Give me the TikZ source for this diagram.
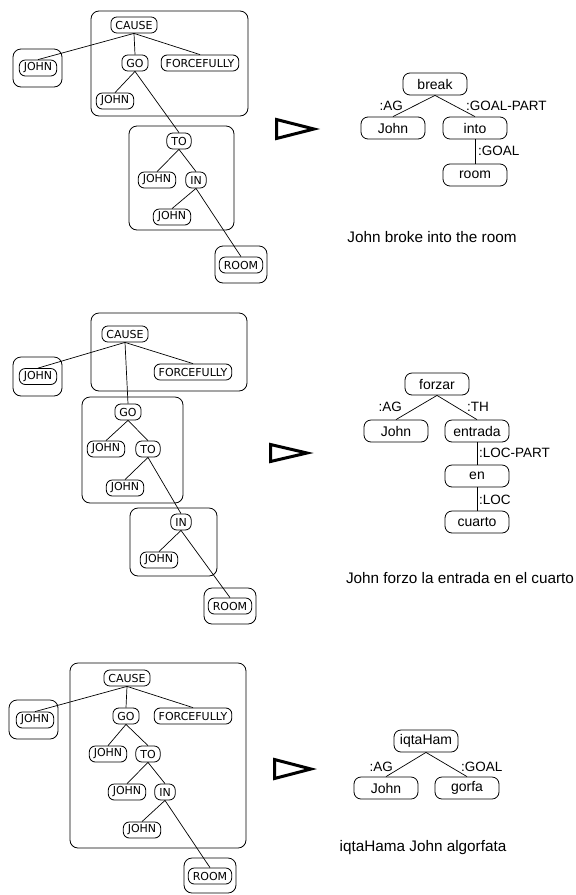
\documentclass[tikz,border=0pt]{standalone}
\usepackage{fontspec}
\setmainfont{Liberation Sans}
\newfontfamily\cdfont{DejaVu Sans}
\usetikzlibrary{positioning,calc}

\tikzset{
  cd/.style={draw, rounded corners=6pt, font=\cdfont\fontsize{11}{13}\selectfont, inner xsep=4.5pt, inner ysep=0pt, minimum height=16pt, minimum width=20pt, line width=0.8pt},
  fr/.style={draw, rounded corners=7pt, font=\fontsize{14}{16}\selectfont, minimum width=64pt, minimum height=22pt, inner sep=0pt, line width=0.8pt},
  rel/.style={font=\fontsize{13.5}{15}\selectfont, inner sep=0pt},
  sent/.style={font=\fontsize{15.3}{18}\selectfont, inner sep=0pt},
  grp/.style={rounded corners=8pt, line width=0.8pt},
  maps/.style={line width=3pt, line join=miter},
  link/.style={line width=0.7pt}
}

\begin{document}
\begin{tikzpicture}[x=1pt,y=-1pt]
    \useasboundingbox (0,0) rectangle (576,895);
    %=============================================================================================================
    %Panel 1: John broke into the room%
    %=============================================================================================================
    \draw[grp] (91,11) rectangle (248,116); %CAUSE group
    \draw[grp] (13,49) rectangle (62,87); %Agent group
    \draw[grp] (129,126) rectangle (234,230); %TO group
    \draw[grp] (215,246) rectangle (267,283); %ROOM group
    \node[cd] (cause1) at (134,25) {CAUSE};
    \node[cd] (agent1) at (38,68) {JOHN};
    \node[cd] (go1) at (135,63) {GO};
    \node[cd] (force1) at (200,63) {FORCEFULLY};
    \node[cd] (gojohn1) at (115,101) {JOHN};
    \node[cd] (to1) at (179,141) {TO};
    \node[cd] (tojohn1) at (157,180) {JOHN};
    \node[cd] (in1) at (196,180) {IN};
    \node[cd] (injohn1) at (172,217) {JOHN};
    \node[cd] (room1) at (241,265) {ROOM};
    \draw[link] (cause1.south) -- (agent1.north);
    \draw[link] (cause1.south) -- (go1.north);
    \draw[link] (cause1.south) -- (force1.north);
    \draw[link] (go1.south) -- (gojohn1.north);
    \draw[link] (go1.south) -- (to1.north);
    \draw[link] (to1.south) -- (tojohn1.north);
    \draw[link] (to1.south) -- (in1.north);
    \draw[link] (in1.south) -- (injohn1.north);
    \draw[link] (in1.south) -- (room1.north);
    %Generation arrow%
    \draw[maps] (276.5,119.5) -- (314,129) -- (276.5,138.5) -- cycle;
    %Target structure%
    \node[fr] (break) at (435,84) {break};
    \node[fr] (ag1) at (393,128) {John};
    \node[fr] (into) at (475,128) {into};
    \node[fr] (room) at (475,175) {room};
    \draw[link] (break.south) -- (ag1.north);
    \draw[link] (break.south) -- (into.north);
    \draw[link] (into) -- (room);
    \node[rel, anchor=east] at (403,106) {:AG};
    \node[rel, anchor=west] at (466,106) {:GOAL-PART};
    \node[rel, anchor=west] at (478,151) {:GOAL};
    \node[sent] (sent1) at (432,237) {John broke into the room};
    %=============================================================================================================
    %Panel 2: John forzo la entrada en el cuarto%
    %=============================================================================================================
    \draw[grp] (91,313) rectangle (247,391); %CAUSE group
    \draw[grp] (13,357) rectangle (62,396); %Agent group
    \draw[grp] (82,397) rectangle (183,503); %GO group
    \draw[grp] (130,508) rectangle (217,576); %IN group
    \draw[grp] (204,588) rectangle (256,624); %ROOM group
    \node[cd] (cause2) at (125,334) {CAUSE};
    \node[cd] (agent2) at (38,376.5) {JOHN};
    \node[cd] (force2) at (193,372) {FORCEFULLY};
    \node[cd] (go2) at (128,412) {GO};
    \node[cd] (gojohn2) at (106,449) {JOHN};
    \node[cd] (to2) at (148,449) {TO};
    \node[cd] (tojohn2) at (125,488) {JOHN};
    \node[cd] (in2) at (181,522) {IN};
    \node[cd] (injohn2) at (159,560) {JOHN};
    \node[cd] (room2) at (230,606) {ROOM};
    \draw[link] (cause2.south) -- (agent2.north);
    \draw[link] (cause2.south) -- (go2.north);
    \draw[link] (cause2.south) -- (force2.north);
    \draw[link] (go2.south) -- (gojohn2.north);
    \draw[link] (go2.south) -- (to2.north);
    \draw[link] (to2.south) -- (tojohn2.north);
    \draw[link] (to2.south) -- (in2.north);
    \draw[link] (in2.south) -- (injohn2.north);
    \draw[link] (in2.south) -- (room2.north);
    %Generation arrow%
    \draw[maps] (270.5,444.5) -- (307,453) -- (270.5,461.5) -- cycle;
    %Target structure%
    \node[fr] (forzar) at (437,384) {forzar};
    \node[fr] (ag2) at (396,431) {John};
    \node[fr] (entrada) at (477,431) {entrada};
    \node[fr] (en) at (477,476) {en};
    \node[fr] (cuarto) at (477,522) {cuarto};
    \draw[link] (forzar.south) -- (ag2.north);
    \draw[link] (forzar.south) -- (entrada.north);
    \draw[link] (entrada) -- (en);
    \draw[link] (en) -- (cuarto);
    \node[rel, anchor=east] at (402,407) {:AG};
    \node[rel, anchor=west] at (467,407) {:TH};
    \node[rel, anchor=west] at (479,453) {:LOC-PART};
    \node[rel, anchor=west] at (479,500) {:LOC};
    \node[sent] (sent2) at (460,578) {John forzo la entrada en el cuarto};
    %=============================================================================================================
    %Panel 3: iqtaHama John algorfata%
    %=============================================================================================================
    \draw[grp] (70,663) rectangle (246,848); %CAUSE group
    \draw[grp] (9,700) rectangle (58,739); %Agent group
    \draw[grp] (184,858) rectangle (236,893); %ROOM group
    \node[cd] (cause3) at (127,678) {CAUSE};
    \node[cd] (agent3) at (35,720) {JOHN};
    \node[cd] (go3) at (126,716) {GO};
    \node[cd] (force3) at (193,716) {FORCEFULLY};
    \node[cd] (gojohn3) at (108,754) {JOHN};
    \node[cd] (to3) at (148,754) {TO};
    \node[cd] (tojohn3) at (127,792) {JOHN};
    \node[cd] (in3) at (165,792) {IN};
    \node[cd] (injohn3) at (142,830) {JOHN};
    \node[cd] (room3) at (210,876) {ROOM};
    \draw[link] (cause3.south) -- (agent3.north);
    \draw[link] (cause3.south) -- (go3.north);
    \draw[link] (cause3.south) -- (force3.north);
    \draw[link] (go3.south) -- (gojohn3.north);
    \draw[link] (go3.south) -- (to3.north);
    \draw[link] (to3.south) -- (tojohn3.north);
    \draw[link] (to3.south) -- (in3.north);
    \draw[link] (in3.south) -- (injohn3.north);
    \draw[link] (in3.south) -- (room3.north);
    %Generation arrow%
    \draw[maps] (274.5,759.5) -- (311,769) -- (274.5,778.5) -- cycle;
    %Target structure%
    \node[fr] (iqtaham) at (426,741) {iqtaHam};
    \node[fr] (ag3) at (386,788) {John};
    \node[fr] (gorfa) at (467,788) {gorfa};
    \draw[link] (iqtaham.south) -- (ag3.north);
    \draw[link] (iqtaham.south) -- (gorfa.north);
    \node[rel, anchor=east] at (393,767) {:AG};
    \node[rel, anchor=west] at (461,767) {:GOAL};
    \node[sent] (sent3) at (423,848) {iqtaHama John algorfata};
\end{tikzpicture}
\end{document}
